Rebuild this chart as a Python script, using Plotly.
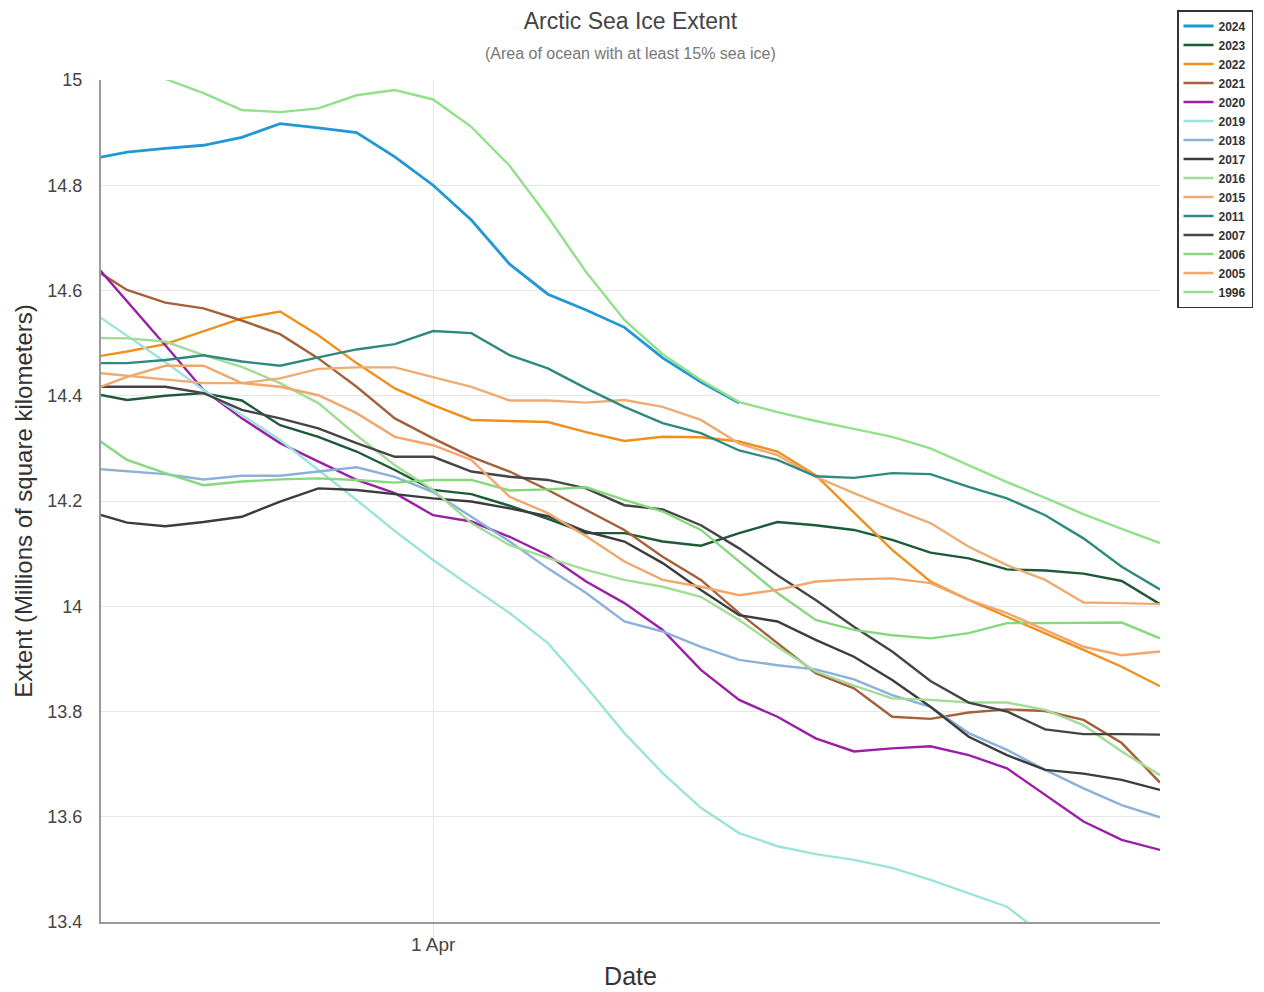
import pandas as pd
import plotly.graph_objects as go

dates = pd.date_range("2024-03-23", "2024-04-20", freq="D")

y2024 = [14.849, 14.863, 14.870, 14.876, 14.891, 14.917, 14.909, 14.900, 14.854, 14.800,
         14.734, 14.650, 14.593, 14.563, 14.530, 14.472, 14.426, 14.386] + [None] * 11
y2023 = [14.406, 14.392, 14.400, 14.405, 14.391, 14.344, 14.322, 14.294, 14.259, 14.221,
         14.213, 14.191, 14.166, 14.139, 14.139, 14.123, 14.115, 14.139, 14.160, 14.154,
         14.145, 14.126, 14.102, 14.091, 14.070, 14.068, 14.062, 14.048, 14.004]
y2022 = [14.472, 14.484, 14.498, 14.522, 14.547, 14.560, 14.515, 14.462, 14.414, 14.382,
         14.354, 14.352, 14.350, 14.331, 14.314, 14.322, 14.321, 14.313, 14.294, 14.249,
         14.177, 14.107, 14.047, 14.012, 13.980, 13.949, 13.917, 13.885, 13.848]
y2021 = [14.647, 14.601, 14.577, 14.566, 14.543, 14.517, 14.471, 14.417, 14.357, 14.319,
         14.284, 14.256, 14.221, 14.183, 14.145, 14.094, 14.050, 13.987, 13.930, 13.873,
         13.844, 13.790, 13.786, 13.798, 13.804, 13.801, 13.784, 13.740, 13.665]
y2020 = [14.663, 14.580, 14.496, 14.411, 14.357, 14.310, 14.275, 14.240, 14.215, 14.173,
         14.161, 14.132, 14.097, 14.047, 14.006, 13.955, 13.879, 13.822, 13.790, 13.749,
         13.724, 13.730, 13.734, 13.717, 13.692, 13.641, 13.591, 13.556, 13.537]
y2019 = [14.564, 14.514, 14.464, 14.411, 14.363, 14.316, 14.259, 14.202, 14.143, 14.088,
         14.037, 13.987, 13.930, 13.847, 13.759, 13.683, 13.617, 13.569, 13.544, 13.529,
         13.518, 13.503, 13.480, 13.455, 13.429, 13.373, None, None, None]
y2018 = [14.262, 14.256, 14.251, 14.241, 14.248, 14.248, 14.256, 14.264, 14.246, 14.217,
         14.170, 14.123, 14.072, 14.025, 13.971, 13.952, 13.923, 13.898, 13.888, 13.880,
         13.861, 13.831, 13.809, 13.759, 13.727, 13.689, 13.654, 13.622, 13.599]
y2017 = [14.180, 14.159, 14.152, 14.160, 14.170, 14.199, 14.224, 14.221, 14.213, 14.205,
         14.199, 14.186, 14.171, 14.142, 14.123, 14.082, 14.031, 13.983, 13.971, 13.936,
         13.904, 13.860, 13.809, 13.752, 13.717, 13.689, 13.682, 13.670, 13.651]
y2016 = [14.510, 14.509, 14.503, 14.477, 14.455, 14.424, 14.386, 14.325, 14.268, 14.221,
         14.158, 14.116, 14.092, 14.069, 14.050, 14.037, 14.018, 13.974, 13.923, 13.876,
         13.849, 13.825, 13.822, 13.817, 13.817, 13.803, 13.774, 13.724, 13.679]
y2015 = [14.445, 14.438, 14.432, 14.424, 14.424, 14.433, 14.451, 14.454, 14.454, 14.436,
         14.417, 14.391, 14.391, 14.387, 14.392, 14.379, 14.354, 14.309, 14.287, 14.246,
         14.215, 14.186, 14.158, 14.113, 14.078, 14.050, 14.007, 14.006, 14.004]
y2011 = [14.462, 14.462, 14.468, 14.477, 14.465, 14.457, 14.473, 14.488, 14.498, 14.523,
         14.519, 14.477, 14.452, 14.414, 14.379, 14.348, 14.329, 14.296, 14.278, 14.247,
         14.244, 14.253, 14.251, 14.227, 14.205, 14.173, 14.129, 14.075, 14.032]
y2007 = [14.417, 14.417, 14.417, 14.405, 14.373, 14.357, 14.338, 14.310, 14.284, 14.284,
         14.256, 14.246, 14.240, 14.224, 14.192, 14.184, 14.154, 14.110, 14.059, 14.012,
         13.961, 13.914, 13.858, 13.817, 13.800, 13.766, 13.757, 13.757, 13.756]
y2006 = [14.329, 14.278, 14.253, 14.230, 14.237, 14.241, 14.243, 14.240, 14.235, 14.240,
         14.240, 14.220, 14.222, 14.226, 14.202, 14.180, 14.145, 14.085, 14.025, 13.974,
         13.955, 13.945, 13.939, 13.949, 13.968, 13.968, 13.968, 13.969, 13.939]
y2005 = [14.408, 14.436, 14.457, 14.457, 14.424, 14.417, 14.401, 14.367, 14.322, 14.306,
         14.278, 14.208, 14.177, 14.133, 14.085, 14.050, 14.037, 14.021, 14.031, 14.047,
         14.051, 14.053, 14.044, 14.012, 13.987, 13.955, 13.923, 13.907, 13.914]
y1996 = [15.050, 15.030, 15.002, 14.975, 14.943, 14.939, 14.946, 14.971, 14.981, 14.963,
         14.911, 14.837, 14.740, 14.635, 14.544, 14.479, 14.430, 14.388, 14.369, 14.352,
         14.337, 14.322, 14.300, 14.268, 14.236, 14.206, 14.175, 14.147, 14.120]

years = ["2024", "2023", "2022", "2021", "2020", "2019", "2018", "2017",
         "2016", "2015", "2011", "2007", "2006", "2005", "1996"]
series = [y2024, y2023, y2022, y2021, y2020, y2019, y2018, y2017,
          y2016, y2015, y2011, y2007, y2006, y2005, y1996]
colors = ["#1f98d4", "#1c5a38", "#f0901c", "#a5603a", "#9a1fa6", "#9ce4d8",
          "#8cb0dc", "#3c3c3c", "#a2dc96", "#eeac72", "#2f8a7e", "#454545",
          "#86d87c", "#f2a66c", "#92e08a"]

y_ticks = [13.4, 13.6, 13.8, 14.0, 14.2, 14.4, 14.6, 14.8, 15.0]
y_ticktext = ["13.4", "13.6", "13.8", "14", "14.2", "14.4", "14.6", "14.8", "15"]
x_tickvals = ["2024-04-01"]
x_ticktext = ["1 Apr"]

FONT = "Liberation Sans, Arial, sans-serif"
W, H = 1256, 984   # page body has an 8px margin

fig = go.Figure()
for name, vals, col in zip(years, series, colors):
    fig.add_trace(go.Scatter(
        x=dates, y=vals, name=name, mode="lines",
        line=dict(color=col, width=2.8 if name == "2024" else 2.4),
        connectgaps=False,
    ))

fig.update_layout(
    width=W, height=H,
    margin=dict(l=93, r=104, t=72, b=70, autoexpand=False),
    paper_bgcolor="white", plot_bgcolor="white",
    font=dict(family=FONT, color="#333"),
    title=dict(text="Arctic Sea Ice Extent", x=0.5, xref="paper",
               yref="container", y=1 - 13 / H, yanchor="middle",
               font=dict(size=23, color="#444", family=FONT)),
    showlegend=True,
    legend=dict(x=(1177 - 8) / W, y=1 - 2 / H, xref="container", yref="container",
                xanchor="left", yanchor="top",
                bordercolor="#333", borderwidth=1.5, bgcolor="white",
                font=dict(size=12, color="#333", family=FONT, weight="bold"),
                itemwidth=30, tracegroupgap=0),
    annotations=[dict(text="(Area of ocean with at least 15% sea ice)",
                      xref="paper", yref="paper", x=0.5, y=(922 - 53) / 842,
                      xanchor="center", yanchor="middle", showarrow=False,
                      font=dict(size=16, color="#777", family=FONT))],
)

fig.update_xaxes(
    type="date", range=["2024-03-23 07:40", "2024-04-20 00:00"],
    tickvals=x_tickvals, ticktext=x_ticktext,
    showgrid=True, gridcolor="#e6e6e6", gridwidth=1,
    ticks="outside", ticklen=13, tickcolor="#e0e0e0", tickwidth=1,
    ticklabelstandoff=-9,
    showline=True, linecolor="#9a9a9a", linewidth=2, zeroline=False,
    tickfont=dict(size=19, color="#444", family=FONT),
    title=dict(text="Date", font=dict(size=25, color="#333", family=FONT), standoff=14),
)
fig.update_yaxes(
    range=[13.4, 15.0], tickvals=y_ticks, ticktext=y_ticktext,
    showgrid=True, gridcolor="#e6e6e6", gridwidth=1,
    ticks="", ticklabelstandoff=13,
    showline=True, linecolor="#9a9a9a", linewidth=2, zeroline=False,
    tickfont=dict(size=18, color="#444", family=FONT),
    title=dict(text="Extent (Millions of square kilometers)",
               font=dict(size=24, color="#333", family=FONT), standoff=8),
)

fig.write_html("out.html")
